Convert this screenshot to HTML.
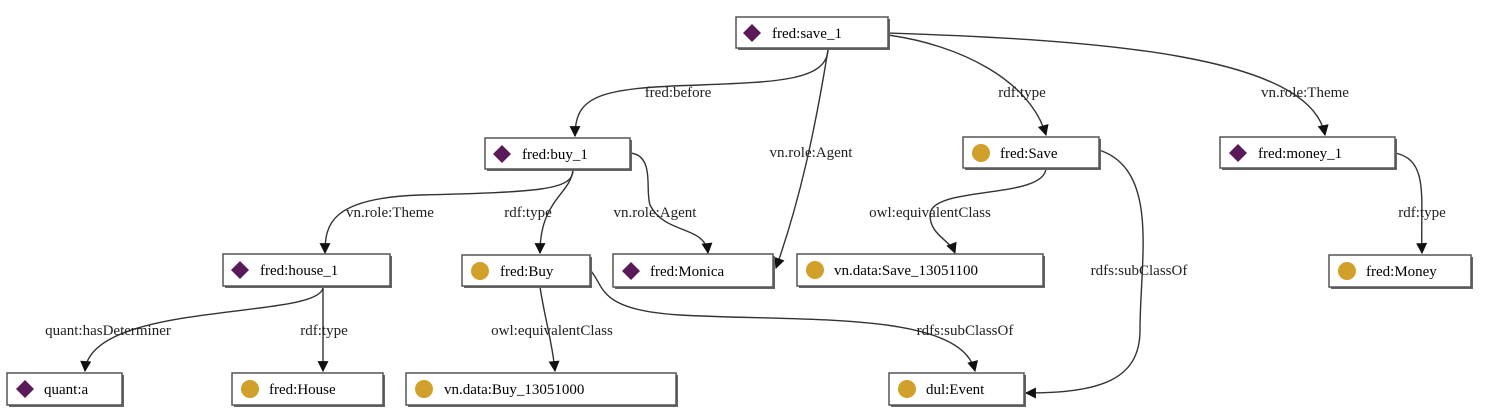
<!DOCTYPE html>
<html><head><meta charset="utf-8"><style>
html,body{margin:0;padding:0;background:#fff;}
svg{display:block;font-family:"Liberation Serif",serif;font-size:15px;}
.n rect.s{fill:#666;}
.n rect.b{fill:#fff;stroke:#555;stroke-width:1.5;}
.e{fill:none;stroke:#333;stroke-width:1.4;}
.l{fill:#222;text-anchor:middle;}
</style></head><body>
<svg width="1498" height="413" viewBox="0 0 1498 413" xmlns="http://www.w3.org/2000/svg">
<defs>
<marker id="a" viewBox="0 0 10 10" refX="9" refY="5" markerWidth="13" markerHeight="11" orient="auto" markerUnits="userSpaceOnUse"><path d="M0,0L10,5L0,10z" fill="#111"/></marker>
<g id="dia"><path d="M0,-9L9,0L0,9L-9,0z" fill="#5a1a5a"/></g>
<g id="cir"><circle r="9" fill="#d0a02a"/></g>
</defs>

<path class="e" marker-end="url(#a)" d="M828,50 C826,80 780,82 700,85 C600,88 575,95 575,136"/>
<text class="l" x="678" y="97">fred:before</text>
<path class="e" marker-end="url(#a)" d="M828,50 C815,130 800,200 776,268"/>
<text class="l" x="811" y="157">vn.role:Agent</text>
<path class="e" marker-end="url(#a)" d="M888,35 C960,45 1030,80 1046,135"/>
<text class="l" x="1022" y="97">rdf:type</text>
<path class="e" marker-end="url(#a)" d="M888,33 C1100,40 1310,55 1325,135"/>
<text class="l" x="1305" y="97">vn.role:Theme</text>
<path class="e" marker-end="url(#a)" d="M573,170 C573,190 540,192 420,195 C330,198 325,225 325,253"/>
<text class="l" x="390" y="217">vn.role:Theme</text>
<path class="e" marker-end="url(#a)" d="M573,170 C570,195 540,200 540,253"/>
<text class="l" x="528" y="217">rdf:type</text>
<path class="e" marker-end="url(#a)" d="M630,153 C655,155 645,190 650,205 C665,235 705,225 708,253"/>
<text class="l" x="655" y="217">vn.role:Agent</text>
<path class="e" marker-end="url(#a)" d="M1046,168 C1045,200 930,185 930,215 C930,235 950,240 955,253"/>
<text class="l" x="930" y="217">owl:equivalentClass</text>
<path class="e" marker-end="url(#a)" d="M1099,150 C1160,170 1140,260 1140,330 C1140,380 1100,393 1026,393"/>
<text class="l" x="1139" y="275">rdfs:subClassOf</text>
<path class="e" marker-end="url(#a)" d="M1395,153 C1430,160 1420,200 1422,253"/>
<text class="l" x="1422" y="217">rdf:type</text>
<path class="e" marker-end="url(#a)" d="M323,287 C323,320 90,300 85,371"/>
<text class="l" x="108" y="335">quant:hasDeterminer</text>
<path class="e" marker-end="url(#a)" d="M323,287 L323,371"/>
<text class="l" x="324" y="335">rdf:type</text>
<path class="e" marker-end="url(#a)" d="M540,287 C545,320 552,340 555,371"/>
<text class="l" x="552" y="335">owl:equivalentClass</text>
<path class="e" marker-end="url(#a)" d="M590,270 C605,285 595,310 680,315 C800,322 960,310 975,371"/>
<text class="l" x="965" y="335">rdfs:subClassOf</text>

<g class="n">
<rect class="s" x="738" y="19" width="152" height="31"/><rect class="b" x="736" y="17" width="152" height="31"/><use href="#dia" x="752" y="33"/><text x="772" y="38">fred:save_1</text>
<rect class="s" x="487" y="140" width="145" height="31"/><rect class="b" x="485" y="138" width="145" height="31"/><use href="#dia" x="502" y="154"/><text x="522" y="159">fred:buy_1</text>
<rect class="s" x="965" y="139" width="136" height="31"/><rect class="b" x="963" y="137" width="136" height="31"/><use href="#cir" x="981" y="153"/><text x="1000" y="158">fred:Save</text>
<rect class="s" x="1222" y="139" width="175" height="31"/><rect class="b" x="1220" y="137" width="175" height="31"/><use href="#dia" x="1238" y="153"/><text x="1258" y="158">fred:money_1</text>
<rect class="s" x="225" y="256" width="167" height="32"/><rect class="b" x="223" y="254" width="167" height="32"/><use href="#dia" x="240" y="270"/><text x="260" y="275">fred:house_1</text>
<rect class="s" x="464" y="257" width="128" height="31"/><rect class="b" x="462" y="255" width="128" height="31"/><use href="#cir" x="480" y="271"/><text x="500" y="276">fred:Buy</text>
<rect class="s" x="615" y="256" width="160" height="33"/><rect class="b" x="613" y="254" width="160" height="33"/><use href="#dia" x="631" y="271"/><text x="650" y="276">fred:Monica</text>
<rect class="s" x="799" y="256" width="246" height="32"/><rect class="b" x="797" y="254" width="246" height="32"/><use href="#cir" x="815" y="270"/><text x="834" y="275">vn.data:Save_13051100</text>
<rect class="s" x="1331" y="257" width="142" height="32"/><rect class="b" x="1329" y="255" width="142" height="32"/><use href="#cir" x="1347" y="271"/><text x="1366" y="276">fred:Money</text>
<rect class="s" x="9" y="375" width="115" height="32"/><rect class="b" x="7" y="373" width="115" height="32"/><use href="#dia" x="25" y="389"/><text x="44" y="394">quant:a</text>
<rect class="s" x="234" y="375" width="151" height="32"/><rect class="b" x="232" y="373" width="151" height="32"/><use href="#cir" x="250" y="389"/><text x="269" y="394">fred:House</text>
<rect class="s" x="408" y="375" width="270" height="32"/><rect class="b" x="406" y="373" width="270" height="32"/><use href="#cir" x="424" y="389"/><text x="444" y="394">vn.data:Buy_13051000</text>
<rect class="s" x="891" y="375" width="135" height="32"/><rect class="b" x="889" y="373" width="135" height="32"/><use href="#cir" x="907" y="389"/><text x="926" y="394">dul:Event</text>
</g>
</svg>
</body></html>
